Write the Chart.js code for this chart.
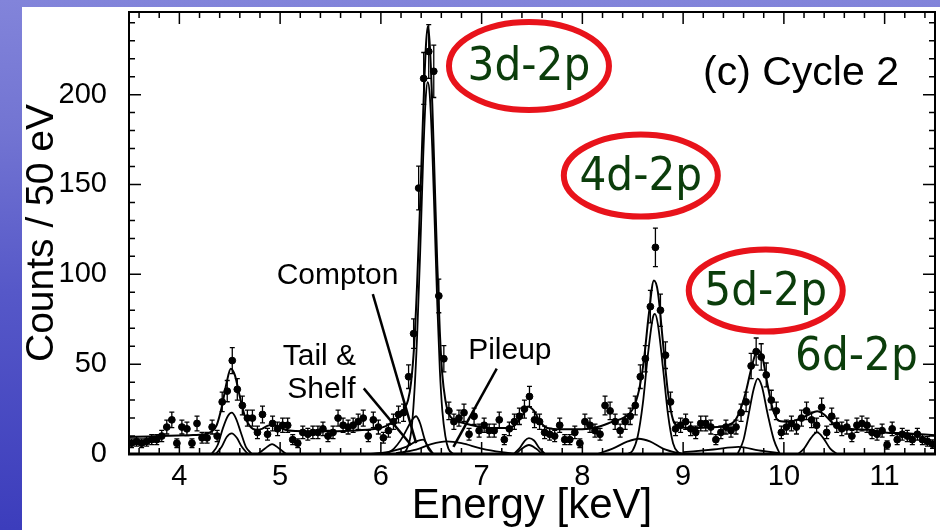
<!DOCTYPE html>
<html lang="en">
<head>
<meta charset="UTF-8">
<title>Cycle 2 spectrum</title>
<script src="https://cdn.jsdelivr.net/npm/chart.js"></script>
<style>
    html, body { margin: 0; padding: 0; }
    body {
        width: 940px; height: 530px; overflow: hidden; position: relative;
        background: linear-gradient(180deg, #8284da 0%, #7274d2 25%, #5658c8 55%, #3c3dbc 100%);
    }
    #wrap { position: absolute; left: 22px; top: 7px; width: 918px; height: 523px; background: #fff; }
    canvas { display: block; }
</style>
</head>
<body>
<div id="wrap"><canvas id="spectrum" width="918" height="523"></canvas></div>
<script>
// measured counts per 50 eV bin, first bin 3.50-3.55 keV
const counts = [
    6, 7, 6, 7, 8, 8, 10, 15, 19, 6,
    15, 14, 6, 17, 9, 9, 15, 10, 29, 35,
    52, 36, 27, 20, 20, 12, 22, 11, 17, 14,
    16, 16, 8, 6, 12, 11, 12, 12, 14, 10,
    12, 20, 16, 15, 16, 18, 20, 10, 19, 15,
    9, 13, 18, 22, 23, 43, 67, 148, 209, 224,
    213, 88, 53, 24, 18, 20, 23, 11, 21, 13,
    16, 13, 13, 19, 8, 14, 18, 21, 25, 32,
    19, 18, 12, 11, 10, 16, 8, 8, 12, 6,
    18, 16, 13, 11, 27, 24, 18, 13, 18, 21,
    27, 43, 53, 82, 115, 80, 55, 29, 14, 16,
    18, 14, 12, 17, 17, 15, 8, 12, 15, 13,
    15, 23, 29, 49, 57, 54, 44, 30, 24, 12,
    15, 17, 15, 20, 24, 19, 16, 26, 12, 21,
    16, 14, 15, 10, 16, 17, 16, 12, 11, 13,
    5, 14, 8, 11, 10, 8, 11, 8, 7, 5.5
];
const binCenters = counts.map((_, i) => 3.525 + 0.05 * i);

// total fit curve [keV, counts]
const fitTotal = [
    [3.5, 9.5], [3.7, 9.8], [3.9, 10.2], [4.1, 10.5], [4.25, 11], [4.32, 12.5], [4.37, 16],
    [4.42, 26], [4.47, 40], [4.51, 47.5], [4.55, 44], [4.6, 32], [4.65, 21], [4.7, 15.5],
    [4.76, 13.5], [4.82, 14], [4.88, 15.8], [4.93, 16.3], [4.98, 15.5], [5.05, 13.5],
    [5.15, 12.8], [5.4, 12.7], [5.7, 13], [5.95, 14], [6.05, 15.5], [6.12, 18], [6.18, 21],
    [6.23, 25], [6.27, 30], [6.3, 40], [6.33, 60], [6.36, 95], [6.39, 140], [6.42, 190],
    [6.445, 225], [6.465, 238], [6.485, 228], [6.51, 195], [6.535, 150], [6.56, 105],
    [6.585, 68], [6.61, 44], [6.64, 30], [6.67, 23], [6.72, 19], [6.8, 17.5], [6.95, 15.5],
    [7.1, 14.5], [7.25, 14.5], [7.33, 16], [7.4, 21], [7.46, 26.5], [7.52, 24], [7.58, 18],
    [7.65, 14.5], [7.8, 13.8], [8.0, 13.8], [8.15, 15], [8.3, 18], [8.42, 20.5], [8.5, 25],
    [8.56, 35], [8.61, 52], [8.66, 78], [8.71, 96.5], [8.75, 90], [8.8, 62], [8.85, 34],
    [8.9, 19], [8.95, 15.5], [9.05, 14.5], [9.25, 14.8], [9.45, 16], [9.52, 19], [9.57, 25],
    [9.62, 34], [9.67, 46], [9.72, 56], [9.75, 57.5], [9.79, 53], [9.84, 38], [9.89, 25],
    [9.95, 18.5], [10.05, 18], [10.15, 19.5], [10.25, 22], [10.33, 23.8], [10.4, 22],
    [10.47, 18], [10.55, 14.8], [10.7, 13.8], [10.85, 13.5], [11.0, 12], [11.2, 11.5], [11.5, 10.5]
];
// fitted components
const peak45a = [[4.32, 0], [4.38, 5], [4.43, 14], [4.48, 21], [4.52, 23], [4.56, 20], [4.61, 12], [4.66, 4], [4.72, 0]];
const peak45b = [[4.36, 0], [4.42, 4], [4.47, 9.5], [4.52, 11.5], [4.57, 9], [4.62, 4], [4.68, 0]];
const bump49 = [[4.78, 0], [4.85, 3], [4.92, 5.5], [4.99, 3], [5.06, 0]];
const line3d = [
    [6.2, 0], [6.25, 2], [6.3, 12], [6.33, 32], [6.36, 66], [6.39, 112], [6.42, 165], [6.445, 198],
    [6.465, 207], [6.485, 200], [6.51, 170], [6.535, 127], [6.56, 83], [6.585, 47], [6.61, 24],
    [6.64, 10], [6.67, 3], [6.72, 0]
];
const compton = [[6.05, 0], [6.13, 3], [6.2, 8], [6.26, 14], [6.31, 19], [6.35, 21], [6.39, 17], [6.43, 9], [6.47, 3], [6.52, 0]];
const tailShelf = [[5.9, 0], [6.1, 1.5], [6.25, 4], [6.35, 7], [6.42, 8], [6.47, 4], [6.52, 0]];
const pileup = [[6.15, 0.5], [6.35, 2.5], [6.5, 5.5], [6.65, 7], [6.8, 6], [7.0, 3], [7.2, 1], [7.35, 0]];
const peak75a = [[7.32, 0], [7.38, 3.5], [7.43, 7.5], [7.47, 8.8], [7.52, 7.5], [7.57, 3.5], [7.63, 0]];
const peak75b = [[7.34, 0], [7.4, 3], [7.47, 5], [7.54, 3], [7.6, 0]];
const bump856 = [[8.15, 0], [8.3, 3], [8.45, 7], [8.56, 8.5], [8.67, 7], [8.8, 3], [8.95, 0.5], [9.0, 0]];
const line4d = [[8.45, 0], [8.5, 2], [8.55, 10], [8.6, 28], [8.65, 55], [8.7, 76], [8.72, 78], [8.75, 72], [8.8, 48], [8.85, 22], [8.9, 6], [8.95, 1], [9.0, 0]];
const bump955 = [[9.0, 1], [9.3, 2.5], [9.55, 4], [9.75, 2], [9.95, 0.5]];
const line5d = [[9.54, 0], [9.6, 8], [9.65, 22], [9.7, 36], [9.74, 42], [9.78, 38], [9.84, 22], [9.9, 8], [9.96, 0]];
const line6d = [[10.14, 0], [10.2, 3], [10.27, 9], [10.33, 12], [10.39, 9], [10.46, 3], [10.53, 0]];

const xTicks = [4, 5, 6, 7, 8, 9, 10, 11];
const yTicks = [0, 50, 100, 150, 200];

// text notes and circled transitions, positions in [keV, counts]
const notes = [
    { text: 'Compton', at: [5.57, 99] },
    { text: 'Tail &', at: [5.39, 54] },
    { text: 'Shelf', at: [5.41, 36] },
    { text: 'Pileup', at: [7.28, 57.5] },
    { text: '(c) Cycle 2', at: [10.17, 211.5], size: 41 }
];
const pointers = [
    [[5.92, 89], [6.35, 6]],
    [[5.83, 36.5], [6.3, 5]],
    [[7.15, 47.5], [6.72, 4]]
];
const transitions = [
    { text: '3d-2p', at: [7.47, 216], ring: [80, 44] },
    { text: '4d-2p', at: [8.58, 155], ring: [77, 41] },
    { text: '5d-2p', at: [9.82, 91], ring: [77, 41] },
    { text: '6d-2p', at: [10.72, 54.5], ring: null }
];

Chart.defaults.font.family = "'Liberation Sans', Arial, sans-serif";
Chart.defaults.color = '#000';

const toXY = pts => pts.map(p => ({ x: p[0], y: p[1] }));
function curve(pts, width) {
    return {
        data: toXY(pts), showLine: true, borderColor: '#000', borderWidth: width,
        pointRadius: 0, cubicInterpolationMode: 'monotone', fill: false
    };
}

const errorBars = {
    id: 'errorBars',
    afterDatasetsDraw(chart) {
        const { ctx, scales: { x, y } } = chart;
        ctx.save();
        ctx.strokeStyle = '#000';
        ctx.lineWidth = 1.3;
        binCenters.forEach((e, i) => {
            const err = Math.sqrt(counts[i]); // Poisson error on the counts
            const px = x.getPixelForValue(e);
            const hi = y.getPixelForValue(counts[i] + err);
            const lo = y.getPixelForValue(Math.max(0, counts[i] - err));
            ctx.beginPath();
            ctx.moveTo(px, lo); ctx.lineTo(px, hi);
            ctx.moveTo(px - 2.5, hi); ctx.lineTo(px + 2.5, hi);
            ctx.moveTo(px - 2.5, lo); ctx.lineTo(px + 2.5, lo);
            ctx.stroke();
        });
        ctx.restore();
    }
};

const frame = {
    id: 'frame',
    afterDraw(chart) {
        const { ctx, chartArea: a, scales: { x, y } } = chart;
        ctx.save();
        ctx.strokeStyle = '#000';
        ctx.lineWidth = 2;
        ctx.strokeRect(a.left, a.top, a.right - a.left, a.bottom - a.top);
        ctx.lineWidth = 3;
        ctx.beginPath(); ctx.moveTo(a.left - 1, a.bottom); ctx.lineTo(a.right + 1, a.bottom); ctx.stroke();
        ctx.lineWidth = 1.5;
        ctx.beginPath();
        for (let k = 18; k <= 57; k++) {
            const v = k / 5;
            const len = Number.isInteger(v) ? 12 : 6;
            const px = x.getPixelForValue(v);
            ctx.moveTo(px, a.top); ctx.lineTo(px, a.top + len);
            ctx.moveTo(px, a.bottom); ctx.lineTo(px, a.bottom - len);
        }
        for (let v = 10; v <= 240; v += 10) {
            const len = v % 50 === 0 ? 12 : 6;
            const py = y.getPixelForValue(v);
            ctx.moveTo(a.left, py); ctx.lineTo(a.left + len, py);
            ctx.moveTo(a.right, py); ctx.lineTo(a.right - len, py);
        }
        ctx.stroke();
        ctx.restore();
    }
};

const annotate = {
    id: 'annotate',
    afterDraw(chart) {
        const { ctx, scales: { x, y } } = chart;
        ctx.save();
        ctx.textAlign = 'center';
        ctx.textBaseline = 'middle';
        ctx.fillStyle = '#000';
        notes.forEach(n => {
            ctx.font = (n.size || 30) + "px 'Liberation Sans', Arial, sans-serif";
            ctx.fillText(n.text, x.getPixelForValue(n.at[0]), y.getPixelForValue(n.at[1]));
        });
        ctx.strokeStyle = '#000';
        ctx.lineWidth = 2.5;
        pointers.forEach(p => {
            ctx.beginPath();
            ctx.moveTo(x.getPixelForValue(p[0][0]), y.getPixelForValue(p[0][1]));
            ctx.lineTo(x.getPixelForValue(p[1][0]), y.getPixelForValue(p[1][1]));
            ctx.stroke();
        });
        transitions.forEach(t => {
            const cx = x.getPixelForValue(t.at[0]);
            const cy = y.getPixelForValue(t.at[1]);
            if (t.ring) {
                ctx.strokeStyle = '#e8131b';
                ctx.lineWidth = 6;
                ctx.beginPath();
                ctx.ellipse(cx, cy, t.ring[0], t.ring[1], 0, 0, Math.PI * 2);
                ctx.stroke();
            }
            ctx.fillStyle = '#0b3d0b';
            ctx.font = "47px 'DejaVu Sans Condensed', 'DejaVu Sans', sans-serif";
            ctx.fillText(t.text, cx, cy + 2);
        });
        ctx.restore();
    }
};

new Chart(document.getElementById('spectrum'), {
    type: 'scatter',
    data: {
        datasets: [
            {
                data: binCenters.map((e, i) => ({ x: e, y: counts[i] })),
                showLine: false, pointRadius: 3.4, pointBackgroundColor: '#000',
                pointBorderColor: '#000', pointBorderWidth: 1
            },
            curve(fitTotal, 2),
            curve(peak45a, 1.8), curve(peak45b, 1.8), curve(bump49, 1.8),
            curve(line3d, 1.8), curve(compton, 1.8), curve(tailShelf, 1.8), curve(pileup, 1.8),
            curve(peak75a, 1.8), curve(peak75b, 1.8), curve(bump856, 1.8), curve(line4d, 1.8),
            curve(bump955, 1.8), curve(line5d, 1.8), curve(line6d, 1.8)
        ]
    },
    options: {
        responsive: false,
        animation: false,
        events: [],
        layout: { padding: { top: 1, right: 2, left: 0, bottom: 0 } },
        plugins: { legend: { display: false }, tooltip: { enabled: false } },
        scales: {
            x: {
                type: 'linear', min: 3.5, max: 11.5,
                afterBuildTicks: s => { s.ticks = xTicks.map(v => ({ value: v })); },
                afterFit: s => { s.height = 76; s.paddingLeft = 0; s.paddingRight = 0; },
                grid: { display: false }, border: { display: false },
                ticks: { font: { size: 29 }, padding: -2, maxRotation: 0, autoSkip: false },
                title: { display: true, text: 'Energy [keV]', font: { size: 42, lineHeight: 1 }, padding: { bottom: 3 } }
            },
            y: {
                min: 0, max: 246,
                afterBuildTicks: s => { s.ticks = yTicks.map(v => ({ value: v })); },
                afterFit: s => { s.width = 107; s.paddingTop = 0; s.paddingBottom = 0; },
                grid: { display: false }, border: { display: false },
                ticks: { font: { size: 29 }, padding: 14 },
                title: { display: true, text: 'Counts / 50 eV', font: { size: 39, lineHeight: 1 }, padding: { top: 1 } }
            }
        }
    },
    plugins: [errorBars, frame, annotate]
});
</script>
</body>
</html>
